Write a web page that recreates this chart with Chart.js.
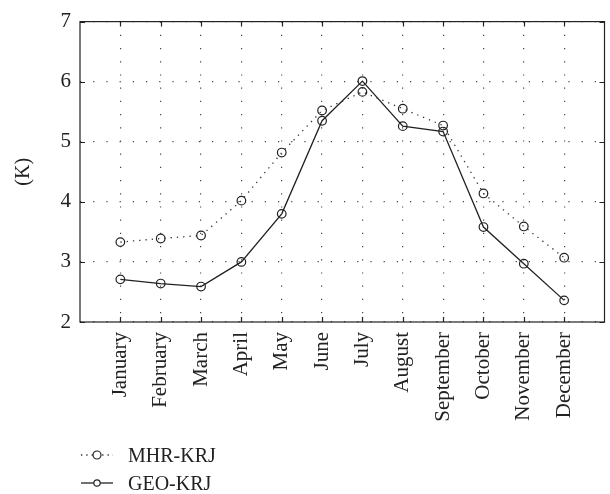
<!DOCTYPE html>
<html>
<head>
<meta charset="utf-8">
<script src="https://cdn.jsdelivr.net/npm/chart.js@4/dist/chart.umd.min.js"></script>
<style>
  body { margin: 0; background: #fff; }
  #wrap { position: relative; width: 610px; height: 494px; }
  #legend { position: absolute; left: 80px; top: 441px; font-family: 'Liberation Serif', serif; font-size: 20px; color: #222; }
  #legend div { height: 28px; line-height: 28px; display: flex; align-items: center; }
  #legend svg { margin-right: 14px; }
</style>
</head>
<body>
<div id="wrap">
  <canvas id="grafico" width="610" height="494"></canvas>
  <div id="legend">
    <div><svg width="34" height="12"><line x1="1" y1="6" x2="33" y2="6" stroke="#333" stroke-width="1.3" stroke-dasharray="1.3,4"/><circle cx="17" cy="6" r="4" fill="#fff" stroke="#222" stroke-width="1.2"/></svg>MHR-KRJ</div>
    <div><svg width="34" height="12"><line x1="1" y1="6" x2="33" y2="6" stroke="#222" stroke-width="1.3"/><circle cx="17" cy="6" r="3.2" fill="#fff" stroke="#222" stroke-width="1.2"/></svg>GEO-KRJ</div>
  </div>
</div>
<script>
var mesi = ['January', 'February', 'March', 'April', 'May', 'June', 'July', 'August', 'September', 'October', 'November', 'December'];
var valoriMHR = [3.33, 3.39, 3.44, 4.02, 4.82, 5.52, 5.83, 5.55, 5.27, 4.14, 3.59, 3.07];
var valoriGEO = [2.71, 2.64, 2.59, 3.00, 3.80, 5.35, 6.01, 5.26, 5.17, 3.58, 2.97, 2.36];
var tickY = [2, 3, 4, 5, 6, 7];

Chart.defaults.font.family = "'Liberation Serif', serif";
Chart.defaults.font.size = 20;
Chart.defaults.color = '#222';

// cornice e tacche interne
var cornice = {
    id: 'cornice',
    afterDatasetsDraw: function (chart) {
        var ctx = chart.ctx;
        var a = chart.chartArea;
        var sx = chart.scales.x, sy = chart.scales.y;
        ctx.save();
        ctx.strokeStyle = '#222';
        ctx.lineWidth = 1.2;
        ctx.strokeRect(a.left, a.top, a.right - a.left, a.bottom - a.top);
        ctx.beginPath();
        sx.ticks.forEach(function (t) {
            var px = Math.round(sx.getPixelForValue(t.value)) + 0.5;
            ctx.moveTo(px, a.bottom); ctx.lineTo(px, a.bottom - 5);
            ctx.moveTo(px, a.top); ctx.lineTo(px, a.top + 5);
        });
        sy.ticks.forEach(function (t) {
            var py = Math.round(sy.getPixelForValue(t.value)) + 0.5;
            ctx.moveTo(a.left, py); ctx.lineTo(a.left + 5, py);
            ctx.moveTo(a.right, py); ctx.lineTo(a.right - 5, py);
        });
        ctx.stroke();
        ctx.restore();
    }
};

var ctx = document.getElementById('grafico');
var chart = new Chart(ctx, {
    type: 'line',
    data: {
        datasets: [{
            label: 'MHR-KRJ',
            data: valoriMHR.map(function (v, i) { return { x: i + 1, y: v }; }),
            borderColor: '#333',
            borderWidth: 1.3,
            borderDash: [1.3, 5],
            pointRadius: 4.3,
            pointBorderWidth: 1.2,
            pointBorderColor: '#222',
            pointBackgroundColor: 'rgba(0,0,0,0)',
            lineTension: 0
        }, {
            label: 'GEO-KRJ',
            data: valoriGEO.map(function (v, i) { return { x: i + 1, y: v }; }),
            borderColor: '#222',
            borderWidth: 1.3,
            pointRadius: 4.3,
            pointBorderWidth: 1.2,
            pointBorderColor: '#222',
            pointBackgroundColor: 'rgba(0,0,0,0)',
            lineTension: 0
        }]
    },
    options: {
        responsive: false,
        animation: false,
        layout: { padding: { top: 13, right: 1, left: 0, bottom: 0 } },
        plugins: { legend: { display: false }, tooltip: { enabled: false } },
        scales: {
            x: {
                type: 'linear',
                min: 0,
                max: mesi.length + 1,
                afterBuildTicks: function (scale) {
                    scale.ticks = mesi.map(function (m, i) { return { value: i + 1 }; });
                },
                afterFit: function (scale) { scale.height = 172; },
                ticks: {
                    autoSkip: false,
                    minRotation: 90,
                    maxRotation: 90,
                    padding: 10,
                    font: { size: 21 },
                    callback: function (v) { return mesi[v - 1]; }
                },
                grid: { color: '#444', lineWidth: 1.2, drawTicks: false },
                border: { display: false, dash: [1.2, 12] }
            },
            y: {
                min: 2,
                max: 7,
                afterBuildTicks: function (scale) {
                    scale.ticks = tickY.map(function (v) { return { value: v }; });
                },
                afterFit: function (scale) { scale.width = 80; },
                ticks: { padding: 9, font: { size: 21 } },
                title: { display: true, text: '(K)', padding: { top: 12, bottom: 0 } },
                grid: { color: '#444', lineWidth: 1.2, drawTicks: false },
                border: { display: false, dash: [1.2, 12] }
            }
        }
    },
    plugins: [cornice]
});
</script>
</body>
</html>
